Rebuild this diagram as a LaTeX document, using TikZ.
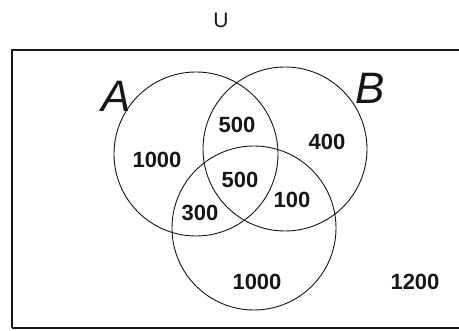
\documentclass[tikz,border=0pt]{standalone}
\usepackage{fontspec}
\setmainfont{Liberation Sans}
\usetikzlibrary{positioning}
\definecolor{ink}{HTML}{161616}
\tikzset{
  setring/.style={circle,draw=ink,line width=0.9pt,minimum size=164pt,inner sep=0pt},
  count/.style={font=\fontsize{22}{22}\selectfont\bfseries,text=ink,inner sep=0pt},
  setname/.style={font=\fontsize{44}{44}\selectfont\itshape,text=ink,inner sep=0pt}
}
\begin{document}
\begin{tikzpicture}[x=1pt,y=-1pt]
  \useasboundingbox (0,0) rectangle (459,331);
  \fill[white] (0,0) rectangle (459,331);

  % universe
  \node[font=\fontsize{21}{21}\selectfont,text=ink,inner sep=0pt] (uname) at (221,20) {U};
  \draw[ink,line width=1.4pt] (12,328) -- (12,50) -- (459,50);
  \draw[ink,line width=1.4pt] (12,328) -- (459,328);

  % the three sets
  \node[setring] (setA) at (196,154) {};
  \node[setring] (setB) at (285,149) {};
  \node[setring] (setC) at (254,228) {};
  \node[setname] (nameA) at (116,96) {A};
  \node[setname] (nameB) at (370,88) {B};

  % region counts
  \node[count] (onlyA) at (157,160) {1000};
  \node[count] (onlyB) at (327,142) {400};
  \node[count] (onlyC) at (257,282) {1000};
  \node[count] (ab) at (237,125) {500};
  \node[count] (abc) at (240,180) {500};
  \node[count] (bc) at (292,200) {100};
  \node[count] (ac) at (200,213) {300};
  \node[count] (none) at (415,282) {1200};
\end{tikzpicture}
\end{document}
